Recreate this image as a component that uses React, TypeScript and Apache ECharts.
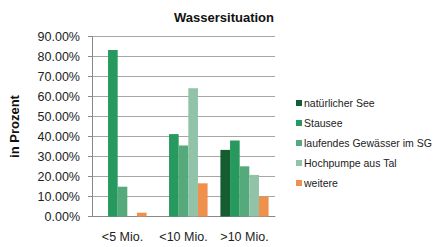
import React, { useEffect, useRef } from "react";
import * as echarts from "echarts";

const categories = ["<5 Mio.", "<10 Mio.", ">10 Mio."];
const seriesNames = [
  "natürlicher See",
  "Stausee",
  "laufendes Gewässer im SG",
  "Hochpumpe aus Tal",
  "weitere",
];
const natuerlicherSee = [0, 0, 33.3];
const stausee = [83.3, 41.2, 38.0];
const laufendes = [14.9, 35.5, 25.1];
const hochpumpe = [0, 64.1, 20.8];
const weitere = [1.9, 16.6, 10.0];
const colors = ["#155c30", "#27995f", "#56a97b", "#90c3a7", "#ef904c"];

export default function App() {
  const ref = useRef<HTMLDivElement>(null);
  useEffect(() => {
    document.body.style.margin = "0";
    if (!ref.current) return;
    const chart = echarts.init(ref.current, undefined, { renderer: "svg" });
    const values = [natuerlicherSee, stausee, laufendes, hochpumpe, weitere];
    chart.setOption({
      animation: false,
      textStyle: { fontFamily: "Liberation Sans, Arial, sans-serif" },
      title: {
        text: "Wassersituation",
        left: 219,
        top: 6,
        textAlign: "center",
        textStyle: { fontSize: 13, fontWeight: "bold", color: "#111" },
      },
      legend: {
        orient: "vertical",
        left: 291,
        top: 92,
        itemWidth: 6,
        itemHeight: 6,
        itemGap: 8,
        icon: "rect",
        textStyle: { fontSize: 10.5, lineHeight: 12, color: "#222", padding: [0, 0, 0, -3] },
        data: seriesNames,
      },
      grid: { left: 92, right: 161, top: 36.5, bottom: 30.5, containLabel: false },
      xAxis: {
        type: "category",
        data: categories,
        axisLine: { lineStyle: { color: "#888" } },
        axisTick: { length: 4, lineStyle: { color: "#888" } },
        axisLabel: { fontSize: 12.5, color: "#222", margin: 14, interval: 0 },
      },
      yAxis: {
        type: "value",
        min: 0,
        max: 90,
        interval: 10,
        name: "in Prozent",
        nameLocation: "middle",
        nameGap: 71,
        nameTextStyle: { fontSize: 13, fontWeight: "bold", color: "#111" },
        axisLine: { show: true, lineStyle: { color: "#888" } },
        axisTick: { show: true, length: 4, lineStyle: { color: "#888" } },
        axisLabel: {
          fontSize: 12.5,
          color: "#222",
          margin: 12,
          formatter: (v: number) => v.toFixed(2) + "%",
        },
        splitLine: { lineStyle: { color: "#a6a6a6" } },
      },
      series: seriesNames.map((name, i) => ({
        name,
        type: "bar",
        data: values[i],
        barGap: "0%",
        barCategoryGap: "21%",
        itemStyle: { color: colors[i] },
      })),
    });
    return () => chart.dispose();
  }, []);
  return <div ref={ref} style={{ width: 436, height: 247 }} />;
}
